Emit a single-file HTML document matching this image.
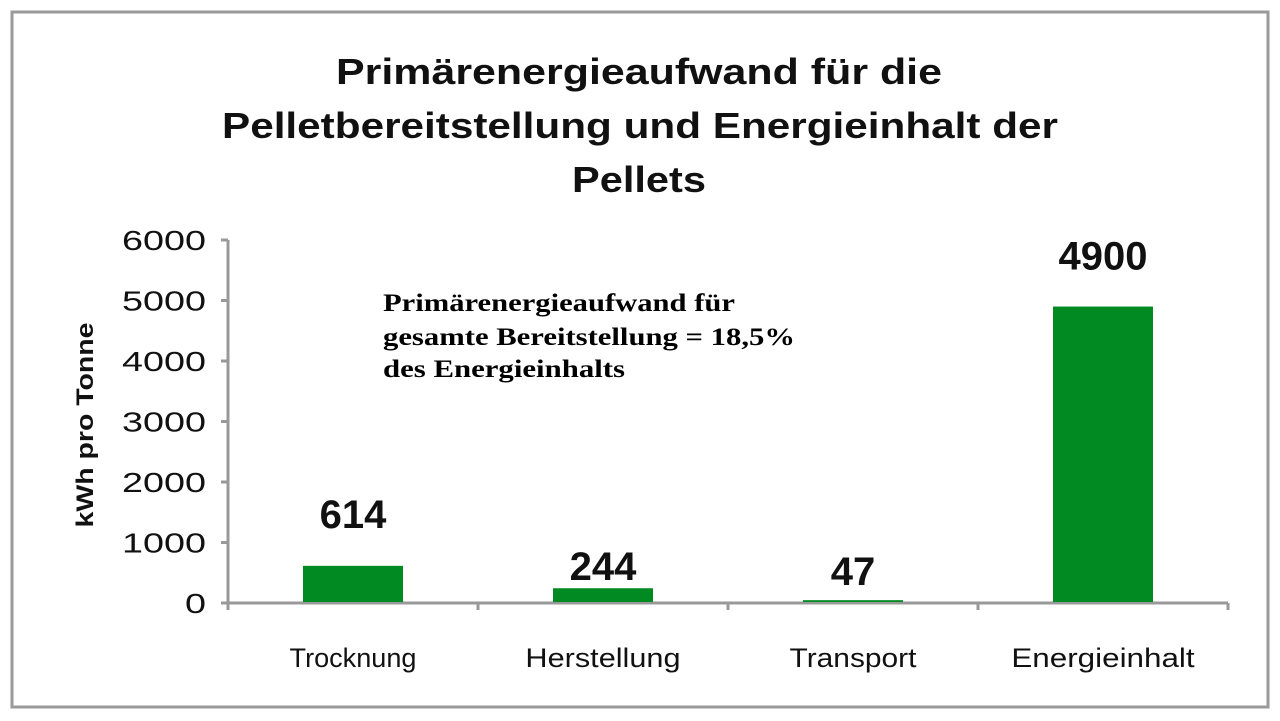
<!DOCTYPE html>
<html><head><meta charset="utf-8"><style>
body{margin:0;background:#fff;}
svg{display:block;}
</style></head><body>
<svg width="1280" height="721" viewBox="0 0 1280 721" xmlns="http://www.w3.org/2000/svg">
<rect x="12" y="12" width="1256" height="695" fill="#fff" stroke="#9a9a9a" stroke-width="3"/>
<g font-family="Liberation Sans, sans-serif" font-weight="bold" font-size="36" fill="#111">
<text x="336" y="84" textLength="606" lengthAdjust="spacingAndGlyphs">Primärenergieaufwand für die</text>
<text x="222" y="138" textLength="836" lengthAdjust="spacingAndGlyphs">Pelletbereitstellung und Energieinhalt der</text>
<text x="572" y="192" textLength="134" lengthAdjust="spacingAndGlyphs">Pellets</text>
</g>
<g font-family="Liberation Serif, serif" font-weight="bold" font-size="25" fill="#000">
<text x="383" y="311" textLength="352" lengthAdjust="spacingAndGlyphs">Primärenergieaufwand für</text>
<text x="383" y="345" textLength="412" lengthAdjust="spacingAndGlyphs">gesamte Bereitstellung = 18,5%</text>
<text x="383" y="377" textLength="242" lengthAdjust="spacingAndGlyphs">des Energieinhalts</text>
</g>
<text transform="translate(93,425) rotate(-90)" text-anchor="middle" font-family="Liberation Sans, sans-serif" font-weight="bold" font-size="24" fill="#111" textLength="205" lengthAdjust="spacingAndGlyphs">kWh pro Tonne</text>
<g id="axes"></g>
<g id="bars"></g>
</svg>
<script>
const categories=["Trocknung","Herstellung","Transport","Energieinhalt"];
const values=[614,244,47,4900];
const valueLabels=["614","244","47","4900"];
const labelDy=[38,8,15,37];
const yTicks=[0,1000,2000,3000,4000,5000,6000];
const NS="http://www.w3.org/2000/svg";
const x0=228,x1=1228,y0=603,y1=240,yMax=6000;
function yScale(v){return y0-(v/yMax)*(y0-y1);}
function xBand(i){const w=(x1-x0)/categories.length;return x0+w*i+w/2;}
function mk(tag,attrs,parent){const e=document.createElementNS(NS,tag);for(const k in attrs)e.setAttribute(k,attrs[k]);parent.appendChild(e);return e;}
const axes=document.getElementById('axes');
const bars=document.getElementById('bars');
let yl=mk('line',{x1:x0,y1:y1,x2:x0,y2:y0,stroke:'#999','stroke-width':3},axes);


let xl=mk('line',{x1:x0,y1:y0,x2:x1,y2:y0,stroke:'#999','stroke-width':3},axes);


yTicks.forEach(t=>{
  const y=yScale(t);
  const tk=mk('line',{x1:x0-7,y1:y,x2:x0,y2:y,stroke:'#999','stroke-width':3},axes);
  
  
  const s=String(t);
  const tx=mk('text',{x:206,y:y+10,'text-anchor':'end','font-family':'Liberation Sans, sans-serif','font-size':28,fill:'#111',textLength:21*s.length,lengthAdjust:'spacingAndGlyphs'},axes);
  tx.textContent=s;
  
  
});
for(let i=0;i<=categories.length;i++){
  const x=x0+(x1-x0)/categories.length*i;
  const tk=mk('line',{x1:x,y1:y0,x2:x,y2:y0+7,stroke:'#999','stroke-width':3},axes);
  
  
}
categories.forEach((c,i)=>{
  const cx=xBand(i);
  const y=yScale(values[i]);
  const b=mk('rect',{x:cx-50,y:y,width:100,height:Math.max(y0-y-1,1),fill:'#028a22'},bars);
  
  
  const vl=mk('text',{x:cx,y:Math.min(y,y0-3)-labelDy[i],'text-anchor':'middle','font-family':'Liberation Sans, sans-serif','font-weight':'bold','font-size':40,fill:'#111'},bars);
  vl.textContent=valueLabels[i];
  
  
  const cl=mk('text',{x:cx,y:667,'text-anchor':'middle','font-family':'Liberation Sans, sans-serif','font-size':27,fill:'#111',textLength:14.1*c.length,lengthAdjust:'spacingAndGlyphs'},bars);
  cl.textContent=c;
  
  
});
</script>
</body></html>
